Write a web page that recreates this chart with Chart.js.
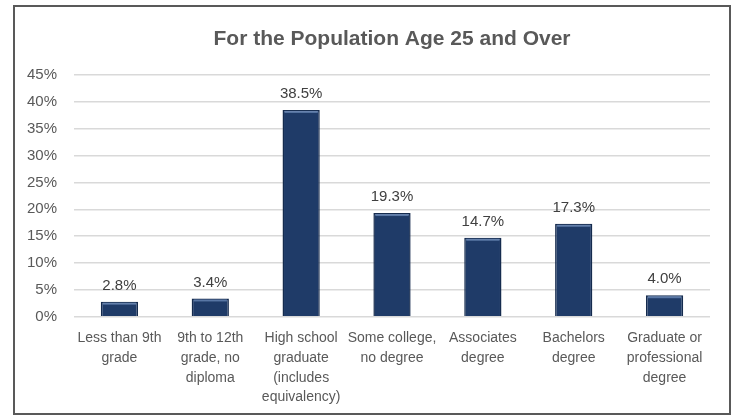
<!DOCTYPE html>
<html>
<head>
<meta charset="utf-8">
<script src="https://cdn.jsdelivr.net/npm/chart.js@4/dist/chart.umd.min.js"></script>
<style>
	html, body { margin: 0; padding: 0; background: #fff; }
	#frame {
		position: absolute;
		left: 13px;
		top: 5px;
		width: 718px;
		height: 410px;
		border: 2px solid #595959;
		box-sizing: border-box;
		background: #fff;
	}
	#chart { display: block; }
</style>
</head>
<body>
<div id="frame"><canvas id="chart" width="714" height="406"></canvas></div>
<script>
// Educational attainment, population age 25 and over
const categories = [
	["Less than 9th", "grade"],
	["9th to 12th", "grade, no", "diploma"],
	["High school", "graduate", "(includes", "equivalency)"],
	["Some college,", "no degree"],
	["Associates", "degree"],
	["Bachelors", "degree"],
	["Graduate or", "professional", "degree"],
];
const shares = [2.8, 3.4, 38.5, 19.3, 14.7, 17.3, 4.0];
const yTicks = [0, 5, 10, 15, 20, 25, 30, 35, 40, 45];
const chartTitle = "For the Population Age 25 and Over";

const FONT = "'Liberation Sans', Arial, sans-serif";
const TEXT = "#595959";

// title centred over the plot area (Excel style, not over the whole canvas)
const plotTitle = {
	id: "plotTitle",
	afterDraw(chart) {
		const { ctx, chartArea } = chart;
		ctx.save();
		ctx.fillStyle = TEXT;
		ctx.font = `bold 21px ${FONT}`;
		ctx.textAlign = "center";
		ctx.textBaseline = "middle";
		ctx.fillText(chartTitle, (chartArea.left + chartArea.right) / 2, 32);
		ctx.restore();
	},
};

// value labels above each bar, plus a light bevel line on the bar top
const barLabels = {
	id: "barLabels",
	afterDatasetsDraw(chart) {
		const { ctx } = chart;
		const meta = chart.getDatasetMeta(0);
		ctx.save();
		meta.data.forEach((bar, i) => {
			const half = bar.width / 2;
			ctx.fillStyle = "rgba(110,140,185,0.75)";
			ctx.fillRect(bar.x - half + 2, bar.y + 1, bar.width - 4, 2);

			ctx.fillStyle = "#404040";
			ctx.font = `15px ${FONT}`;
			ctx.textAlign = "center";
			ctx.textBaseline = "middle";
			ctx.fillText(shares[i].toFixed(1) + "%", bar.x, bar.y - 16);
		});
		ctx.restore();
	},
};

const ctx = document.getElementById("chart").getContext("2d");
new Chart(ctx, {
	type: "bar",
	data: {
		labels: categories,
		datasets: [
			{
				data: shares,
				backgroundColor: "#1f3b68",
				borderColor: "#152b4e",
				borderWidth: 1.5,
				borderSkipped: "bottom",
				categoryPercentage: 1,
				barPercentage: 0.41,
			},
		],
	},
	options: {
		responsive: false,
		animation: false,
		layout: { padding: { left: 0, right: 19, top: 68, bottom: 0 } },
		scales: {
			x: {
				grid: { display: false, drawTicks: false },
				border: { display: false },
				ticks: {
					color: TEXT,
					font: { family: FONT, size: 14, lineHeight: 1.4 },
					padding: 12,
					maxRotation: 0,
					autoSkip: false,
				},
				afterFit: (s) => { s.height = 96.3; },
			},
			y: {
				min: yTicks[0],
				max: yTicks[yTicks.length - 1],
				afterBuildTicks: (s) => { s.ticks = yTicks.map((v) => ({ value: v })); },
				grid: { color: "#d9d9d9", lineWidth: 1.5, drawTicks: false },
				border: { display: false },
				ticks: {
					color: TEXT,
					font: { family: FONT, size: 15 },
					padding: 17,
					callback: (v) => v + "%",
				},
				afterFit: (s) => { s.width = 59; },
			},
		},
		plugins: {
			legend: { display: false },
			tooltip: { enabled: false },
			title: { display: false },
		},
	},
	plugins: [barLabels, plotTitle],
});
</script>
</body>
</html>
